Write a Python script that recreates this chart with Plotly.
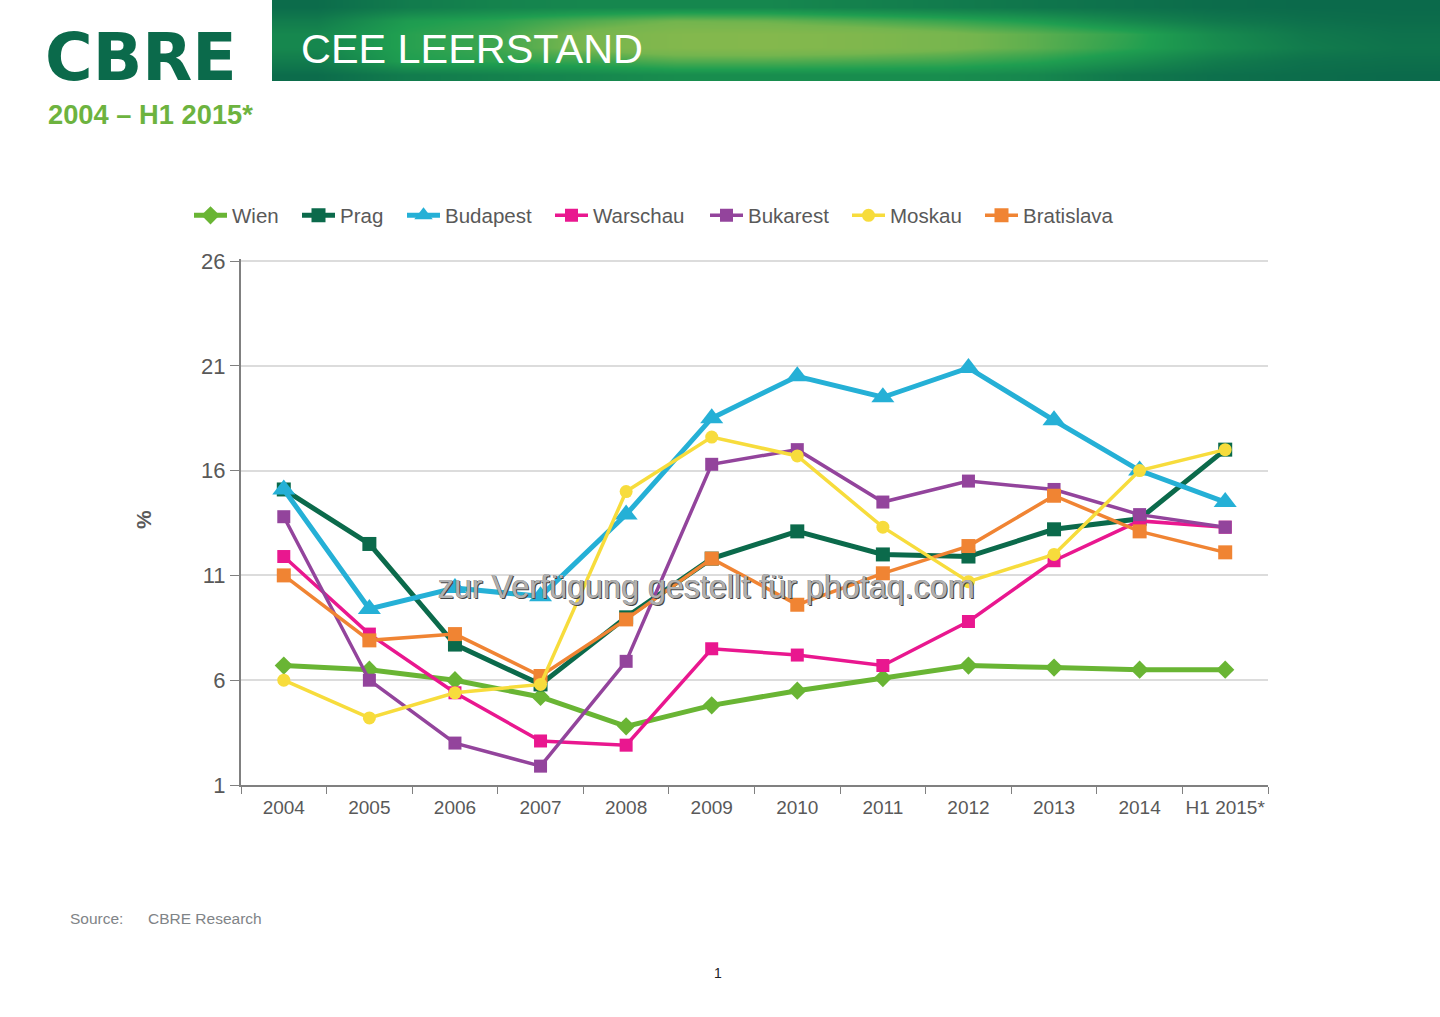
import plotly.graph_objects as go

years = ['2004', '2005', '2006', '2007', '2008', '2009', '2010', '2011', '2012', '2013', '2014', 'H1 2015*']

wien = [6.7, 6.5, 6.0, 5.2, 3.8, 4.8, 5.5, 6.1, 6.7, 6.6, 6.5, 6.5]
prag = [15.1, 12.5, 7.7, 5.8, 9.0, 11.8, 13.1, 12.0, 11.9, 13.2, 13.7, 17.0]
budapest = [15.1, 9.4, 10.4, 10.0, 13.9, 18.5, 20.5, 19.5, 20.9, 18.4, 16.0, 14.5]
warschau = [11.9, 8.2, 5.4, 3.1, 2.9, 7.5, 7.2, 6.7, 8.8, 11.7, 13.6, 13.3]
bukarest = [13.8, 6.0, 3.0, 1.9, 6.9, 16.3, 17.0, 14.5, 15.5, 15.1, 13.9, 13.3]
moskau = [6.0, 4.2, 5.4, 5.8, 15.0, 17.6, 16.7, 13.3, 10.7, 12.0, 16.0, 17.0]
bratislava = [11.0, 7.9, 8.2, 6.2, 8.9, 11.8, 9.6, 11.1, 12.4, 14.8, 13.1, 12.1]

# banner shading, bottom row first, left to right
banner_z = [
    [0.02, 0.15, 0.20, 0.25, 0.30, 0.30, 0.30, 0.30, 0.25, 0.12, 0.05, 0.02, 0.00],
    [0.15, 0.45, 0.50, 0.55, 0.65, 0.65, 0.62, 0.58, 0.48, 0.32, 0.15, 0.06, 0.04],
    [0.25, 0.48, 0.58, 0.85, 0.98, 1.00, 0.95, 0.85, 0.70, 0.50, 0.30, 0.15, 0.08],
    [0.25, 0.48, 0.58, 0.85, 0.98, 1.00, 0.95, 0.85, 0.70, 0.52, 0.28, 0.12, 0.06],
    [0.15, 0.42, 0.50, 0.65, 0.78, 0.75, 0.65, 0.55, 0.42, 0.25, 0.12, 0.05, 0.02],
    [0.02, 0.15, 0.22, 0.25, 0.25, 0.25, 0.20, 0.15, 0.10, 0.06, 0.02, 0.00, 0.00],
]
banner_scale = [[0, '#0b6a4b'], [0.45, '#1f9e50'], [0.8, '#74b54e'], [1, '#84b84d']]

gris = '#595959'
fig = go.Figure()

fig.add_trace(go.Heatmap(z=banner_z, colorscale=banner_scale, zmin=0, zmax=1, zsmooth='best',
                         showscale=False, hoverinfo='skip', xaxis='x2', yaxis='y2'))


def courbe(nom, valeurs, couleur, largeur, symbole, taille, legende):
    fig.add_trace(go.Scatter(x=years, y=valeurs, name=nom, mode='lines+markers', legend=legende,
                             line={'color': couleur, 'width': largeur},
                             marker={'symbol': symbole, 'size': taille, 'color': couleur}))


courbe('Wien', wien, '#69b534', 5, 'diamond', 14, 'legend')
courbe('Prag', prag, '#0b6a4b', 5, 'square', 14, 'legend2')
courbe('Budapest', budapest, '#25b0d6', 5, 'triangle-up', 20, 'legend3')
courbe('Warschau', warschau, '#e9178f', 3.5, 'square', 13, 'legend4')
courbe('Bukarest', bukarest, '#93449c', 3.5, 'square', 13, 'legend5')
courbe('Bratislava', bratislava, '#f08433', 3.5, 'square', 14, 'legend7')
courbe('Moskau', moskau, '#f7dc3c', 3.5, 'circle', 13, 'legend6')


def legende(texte_x):
    return {'x': (texte_x - 43) / 1440, 'y': 1 - 215.5 / 1017, 'xanchor': 'left', 'yanchor': 'middle',
            'orientation': 'h', 'itemwidth': 33, 'bgcolor': 'rgba(0,0,0,0)',
            'font': {'size': 20.5, 'color': gris}}


fig.update_layout(
    template='none',
    width=1440, height=1017,
    margin={'l': 0, 'r': 0, 't': 0, 'b': 0},
    paper_bgcolor='white', plot_bgcolor='white',
    font={'family': 'Liberation Sans', 'color': gris},
    showlegend=True,
    legend=legende(232), legend2=legende(340), legend3=legende(445), legend4=legende(593),
    legend5=legende(748), legend6=legende(890), legend7=legende(1023),
    xaxis={'domain': [241 / 1440, 1268 / 1440], 'type': 'category', 'range': [-0.5, 11.5],
           'tickson': 'boundaries', 'ticks': 'outside', 'ticklen': 7, 'tickcolor': '#808080',
           'showline': True, 'linecolor': '#808080', 'linewidth': 2, 'showgrid': False,
           'tickangle': 0, 'ticklabelstandoff': 4, 'tickfont': {'size': 19, 'color': gris}},
    # plotly drops a gridline closer than 1px to the axis end, so the range goes a bit past 26
    yaxis={'domain': [(1017 - 785) / 1017, (1017 - 258.9) / 1017], 'range': [1, 26.1], 'tick0': 1, 'dtick': 5,
           'ticks': 'outside', 'ticklen': 9, 'tickcolor': '#808080',
           'showline': True, 'linecolor': '#808080', 'linewidth': 2,
           'showgrid': True, 'gridcolor': '#dcdcdc', 'gridwidth': 1.5, 'zeroline': False,
           'tickfont': {'size': 22, 'color': gris}},
    xaxis2={'domain': [272 / 1440, 1], 'anchor': 'y2', 'visible': False},
    yaxis2={'domain': [(1017 - 81) / 1017, 1], 'anchor': 'x2', 'visible': False},
)


def texte(t, x, y, taille, couleur, ancre='left', **kw):
    fig.add_annotation(text=t, x=x / 1440, y=1 - y / 1017, xref='paper', yref='paper', showarrow=False,
                       xanchor=ancre, yanchor='middle', font={'size': taille, 'color': couleur, **kw.pop('font', {})},
                       **kw)


texte('<b>CBRE</b>', 43, 57, 65, '#0b6a4b', font={'family': 'DejaVu Sans'})
texte('CEE LEERSTAND', 299, 49, 41.4, 'white')
texte('<b>2004 – H1 2015*</b>', 46, 114, 27.3, '#6db33f')
texte('<b>%</b>', 143, 520, 21, gris, ancre='center', textangle=-90)
texte('Source:', 68, 918, 15.5, '#7f8487')
texte('CBRE Research', 146, 918, 15.5, '#7f8487')
texte('1', 718, 973, 14, '#222222', ancre='center')
texte('zur Verfügung gestellt für photaq.com', 706, 587, 32.3, '#b0b0b0', ancre='center',
      font={'shadow': '1px 1px 0 #444444, -0.5px -0.5px 0 #888888'})

fig.write_html("out.html", config={'displayModeBar': False}, post_script="document.body.style.margin='0';")
